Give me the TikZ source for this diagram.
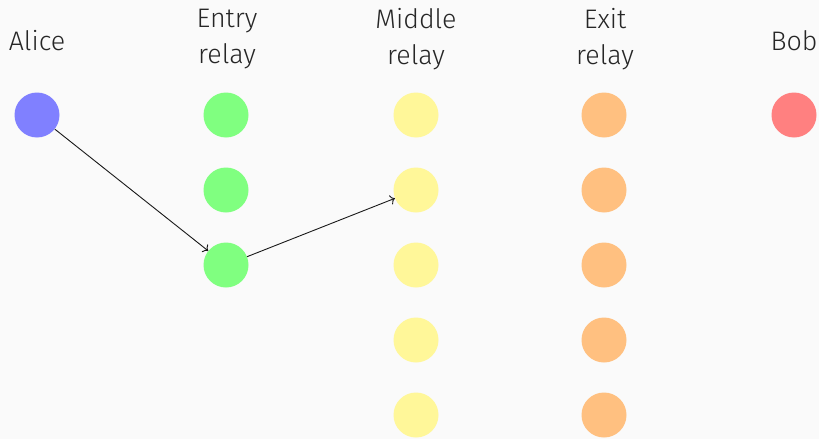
\documentclass[tikz,border=0pt]{standalone}
\usepackage{fontspec}
\usetikzlibrary{arrows.meta}
\setmainfont{Fira Sans Light}
\begin{document}
\begin{tikzpicture}[x=1pt,y=-1pt,
  dot/.style={circle,minimum size=45pt,inner sep=0pt,draw=none},
  lbl/.style={font=\fontsize{26.8}{36}\selectfont,text=black!85,align=center,inner sep=0pt},
  link/.style={-{To[scale=1.3]},line width=0.9pt,black!90}]
\definecolor{bg}{HTML}{FAFAFA}
\definecolor{calice}{HTML}{8080FF}
\definecolor{centry}{HTML}{80FF80}
\definecolor{cmid}{HTML}{FFF799}
\definecolor{cexit}{HTML}{FFC080}
\definecolor{cbob}{HTML}{FF8080}
\fill[bg] (0,0) rectangle (819,439);
\useasboundingbox (0,0) rectangle (819,439);
\node[lbl] (la) at (37,41) {Alice};
\node[lbl] (le) at (227,39.5) {Entry\\relay};
\node[lbl] (lm) at (416,39.5) {Middle\\relay};
\node[lbl] (lx) at (605,39.5) {Exit\\relay};
\node[lbl] (lb) at (794,41) {Bob};
\node[dot,fill=calice] (alice) at (37,115) {};
\node[dot,fill=cbob] (bob) at (794,115) {};
\foreach \i/\y in {1/115,2/190,3/265} \node[dot,fill=centry] (e\i) at (226,\y) {};
\foreach \i/\y in {1/115,2/190,3/265,4/340,5/415} {
  \node[dot,fill=cmid] (m\i) at (416,\y) {};
  \node[dot,fill=cexit] (x\i) at (604,\y) {};
}
\draw[link] (alice) -- (e3);
\draw[link] (e3) -- (m2);
\end{tikzpicture}
\end{document}
